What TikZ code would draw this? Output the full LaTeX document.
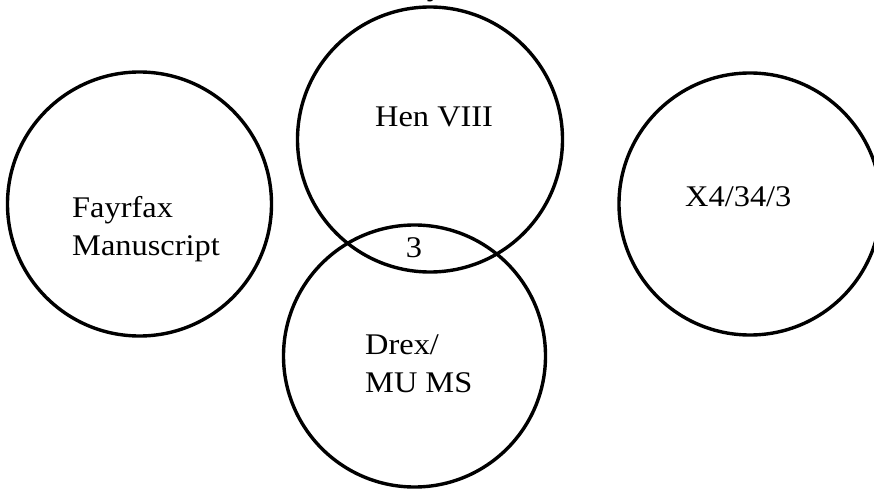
\documentclass[tikz,border=0pt]{standalone}
\usepackage{fontspec}
\setmainfont{Liberation Serif}[FakeStretch=1.08]
\begin{document}
\begin{tikzpicture}[x=1pt,y=-1pt,
  ring/.style={draw=black,line width=3.4pt,circle,inner sep=0pt},
  lbl/.style={inner sep=0pt,font=\fontsize{30}{38}\selectfont,align=left}]
\useasboundingbox (0,0) rectangle (874,489);
% the four circles
\node[ring,minimum size=264pt] (fay) at (139.5,204) {};
\node[ring,minimum size=265pt] (hen) at (430,139.5) {};
\node[ring,minimum size=262pt] (drex) at (414.5,356) {};
\node[ring,minimum size=262pt] (x4) at (750,204) {};
% labels (base anchor of a two-line label sits on its last line)
\node[lbl,anchor=base west] (tfay) at (72,255) {Fayrfax\\Manuscript};
\node[lbl,anchor=base west] (then) at (375,127) {Hen VIII};
\node[lbl,anchor=base] (tint) at (414,257) {3};
\node[lbl,anchor=base west] (tdrex) at (365,392) {Drex/\\MU MS};
\node[lbl,anchor=base west] (tx4) at (685,206) {X4/34/3};
% heading descender running in from above
\node[lbl,anchor=base] (ttop) at (435,-4) {y};
\end{tikzpicture}
\end{document}
